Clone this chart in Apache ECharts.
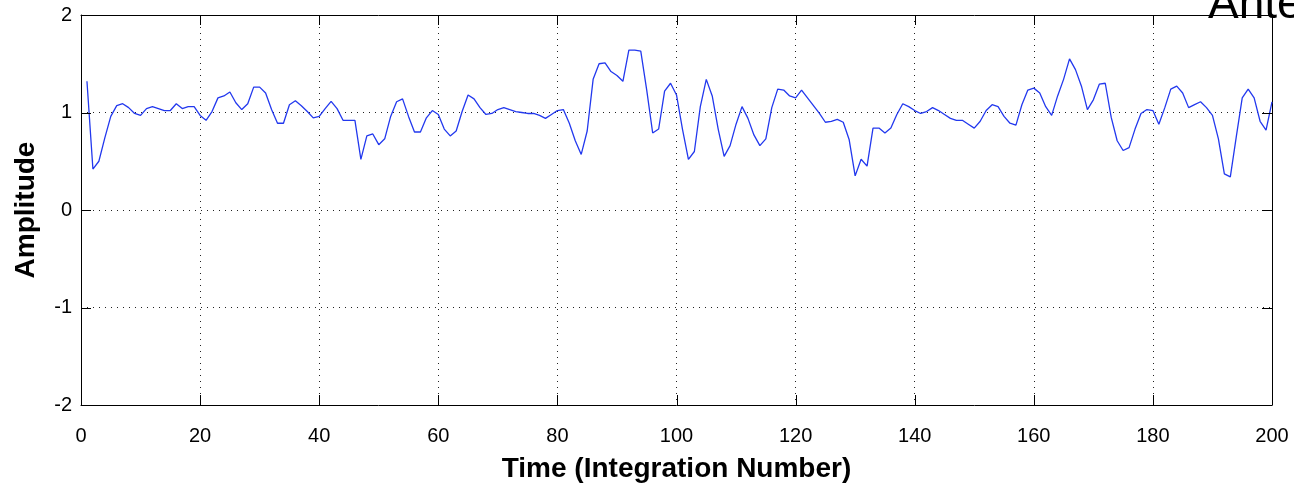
<!DOCTYPE html>
<html>
<head>
<meta charset="utf-8">
<script src="https://cdn.jsdelivr.net/npm/echarts@6/dist/echarts.min.js"></script>
<style>
html,body{margin:0;padding:0;background:#fff;}
#chart{width:1294px;height:488px;}
</style>
</head>
<body>
<div id="chart"></div>
<script>
// Data
var integrationNumbers = [];
for (var k = 1; k <= 200; k++) integrationNumbers.push(k);
var amplitudes = [
  1.32, 0.42, 0.50, 0.74, 0.96, 1.07, 1.09, 1.05, 0.99, 0.97,
  1.04, 1.06, 1.04, 1.02, 1.02, 1.09, 1.04, 1.06, 1.06, 0.97,
  0.92, 1.01, 1.15, 1.17, 1.21, 1.10, 1.03, 1.09, 1.26, 1.26,
  1.20, 1.03, 0.89, 0.89, 1.08, 1.12, 1.07, 1.01, 0.945, 0.96,
  1.04, 1.115, 1.04, 0.92, 0.92, 0.92, 0.52, 0.76, 0.78, 0.67,
  0.73, 0.96, 1.11, 1.14, 0.96, 0.80, 0.80, 0.945, 1.02, 0.98,
  0.83, 0.76, 0.81, 1.01, 1.18, 1.14, 1.05, 0.98, 0.99, 1.03,
  1.05, 1.03, 1.01, 1.00, 0.99, 0.99, 0.97, 0.94, 0.98, 1.02,
  1.03, 0.89, 0.71, 0.57, 0.81, 1.34, 1.50, 1.51, 1.42, 1.38,
  1.32, 1.64, 1.64, 1.63, 1.23, 0.79, 0.83, 1.22, 1.30, 1.18,
  0.83, 0.52, 0.60, 1.06, 1.34, 1.17, 0.83, 0.55, 0.66, 0.88,
  1.06, 0.94, 0.77, 0.66, 0.73, 1.05, 1.24, 1.23, 1.17, 1.15,
  1.23, 1.15, 1.07, 0.99, 0.90, 0.91, 0.93, 0.90, 0.72, 0.35,
  0.52, 0.45, 0.84, 0.84, 0.79, 0.84, 0.98, 1.09, 1.06, 1.02,
  0.99, 1.01, 1.05, 1.02, 0.98, 0.94, 0.92, 0.92, 0.88, 0.84,
  0.91, 1.02, 1.08, 1.06, 0.96, 0.89, 0.87, 1.08, 1.23, 1.25,
  1.20, 1.06, 0.97, 1.17, 1.34, 1.55, 1.44, 1.27, 1.03, 1.13,
  1.29, 1.30, 0.95, 0.71, 0.61, 0.64, 0.83, 0.99, 1.03, 1.02,
  0.88, 1.05, 1.24, 1.27, 1.20, 1.05, 1.08, 1.11, 1.05, 0.97,
  0.73, 0.37, 0.34, 0.75, 1.15, 1.24, 1.15, 0.91, 0.82, 1.11
];
var xTicks = [0, 20, 40, 60, 80, 100, 120, 140, 160, 180, 200];
var yTicks = [-2, -1, 0, 1, 2];
var xLabel = 'Time (Integration Number)';
var yLabel = 'Amplitude';
var titleText = 'Antenna';

var seriesData = integrationNumbers.map(function (x, i) { return [x, amplitudes[i]]; });

var chart = echarts.init(document.getElementById('chart'), null, {renderer: 'canvas'});
function gridLine() { return {show: true, lineStyle: {color: '#222', width: 1, type: [1, 5]}}; }
function axisLineStyle() { return {show: true, onZero: false, lineStyle: {color: '#000', width: 1}}; }
function labelFont(m) { return {show: true, margin: m, color: '#000', fontFamily: 'Liberation Sans, Arial, sans-serif', fontSize: 20}; }
var nameFont = {color: '#000', fontFamily: 'Liberation Sans, Arial, sans-serif', fontSize: 28, fontWeight: 'bold'};

var titleGraphic = {
  type: 'text',
  left: 1208, top: -18,
  z: 100,
  style: {
    text: titleText,
    fill: '#000',
    font: '46px "Liberation Sans", Arial, sans-serif'
  }
};

chart.setOption({
  animation: false,
  backgroundColor: '#fff',
  grid: {left: 81, right: 22, top: 15, bottom: 80, containLabel: false},
  xAxis: [{
    type: 'value', min: xTicks[0], max: xTicks[xTicks.length - 1], interval: 20,
    position: 'bottom',
    axisLine: axisLineStyle(),
    axisTick: {show: false},
    axisLabel: labelFont(21),
    splitLine: gridLine(),
    name: xLabel, nameLocation: 'middle', nameGap: 50,
    nameTextStyle: nameFont
  }, {
    type: 'value', min: xTicks[0], max: xTicks[xTicks.length - 1], interval: 20,
    position: 'top',
    axisLine: axisLineStyle(),
    axisTick: {show: false},
    axisLabel: {show: false},
    splitLine: {show: false}
  }],
  yAxis: [{
    type: 'value', min: yTicks[0], max: yTicks[yTicks.length - 1], interval: 1,
    position: 'left',
    axisLine: axisLineStyle(),
    axisTick: {show: false},
    axisLabel: labelFont(9),
    splitLine: gridLine(),
    name: yLabel, nameLocation: 'middle', nameGap: 41,
    nameTextStyle: nameFont
  }, {
    type: 'value', min: yTicks[0], max: yTicks[yTicks.length - 1], interval: 1,
    position: 'right',
    axisLine: axisLineStyle(),
    axisTick: {show: false},
    axisLabel: {show: false},
    splitLine: {show: false}
  }],
  series: [{
    type: 'line',
    xAxisIndex: 0, yAxisIndex: 0,
    data: seriesData,
    showSymbol: false,
    symbol: 'none',
    lineStyle: {color: '#2238ee', width: 1.3},
    z: 3
  }],
  graphic: [titleGraphic]
});

// Inward tick marks on all four sides, placed through the axes' own scales
var TICK_LEN = 10;
var gx0 = chart.convertToPixel({xAxisIndex: 0}, xTicks[0]);
var gx1 = chart.convertToPixel({xAxisIndex: 0}, xTicks[xTicks.length - 1]);
var gyB = chart.convertToPixel({yAxisIndex: 0}, yTicks[0]);
var gyT = chart.convertToPixel({yAxisIndex: 0}, yTicks[yTicks.length - 1]);
var tickEls = [];
function tl(x1, y1, x2, y2) {
  tickEls.push({type: 'line', z: 50, silent: true,
    shape: {x1: x1, y1: y1, x2: x2, y2: y2},
    style: {stroke: '#000', lineWidth: 1}});
}
xTicks.forEach(function (v) {
  var p = Math.round(chart.convertToPixel({xAxisIndex: 0}, v)) + 0.5;
  tl(p, gyB, p, gyB - TICK_LEN);
  tl(p, gyT, p, gyT + TICK_LEN);
});
yTicks.forEach(function (v) {
  var p = Math.round(chart.convertToPixel({yAxisIndex: 0}, v)) + 0.5;
  tl(gx0, p, gx0 + TICK_LEN, p);
  tl(gx1, p, gx1 - TICK_LEN, p);
});
chart.setOption({graphic: [titleGraphic].concat(tickEls)}, {replaceMerge: ['graphic']});
</script>
</body>
</html>
